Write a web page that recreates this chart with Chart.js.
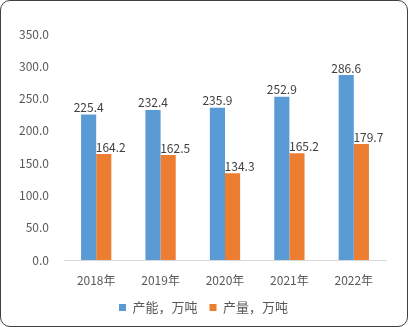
<!DOCTYPE html>
<html>
<head>
<meta charset="utf-8">
<script src="https://cdn.jsdelivr.net/npm/chart.js@4/dist/chart.umd.min.js"></script>
<style>
	html, body { margin: 0; padding: 0; background: #fff; }
	.frame {
		position: absolute; left: 0; top: 0;
		width: 406px; height: 325px;
		border: 1px solid #404040; border-radius: 10px;
		overflow: hidden; background: #fff;
	}
</style>
</head>
<body>
<div class="frame"><canvas id="chart" width="406" height="325"></canvas></div>
<script>
const years = ['2018年', '2019年', '2020年', '2021年', '2022年'];
const capacity = [225.4, 232.4, 235.9, 252.9, 286.6];
const output = [164.2, 162.5, 134.3, 165.2, 179.7];
const seriesNames = ['产能，万吨', '产量，万吨'];

const FONT = "'Noto Sans CJK SC', 'Noto Sans', sans-serif";

// numbers above each bar (the second series sits a bit to the right so it clears the blue bar)
const labelShift = [0, 7];
const valueLabels = {
	id: 'valueLabels',
	afterDatasetsDraw(chart) {
		const ctx = chart.ctx;
		ctx.save();
		ctx.font = '12px ' + FONT;
		ctx.fillStyle = '#404040';
		ctx.textAlign = 'center';
		ctx.textBaseline = 'bottom';
		chart.data.datasets.forEach((ds, i) => {
			chart.getDatasetMeta(i).data.forEach((bar, j) => {
				ctx.fillText(ds.data[j].toFixed(1), bar.x + labelShift[i], bar.y - 1);
			});
		});
		ctx.restore();
	},
};

// nudge the legend a little to the right, like the original
const legendShift = {
	id: 'legendShift',
	afterLayout(chart) {
		chart.legend.left += 10;
		chart.legend.right += 10;
	},
};

const ctx = document.getElementById('chart').getContext('2d');
new Chart(ctx, {
	type: 'bar',
	data: {
		labels: years,
		datasets: [
			{ label: seriesNames[0], data: capacity, backgroundColor: '#5B9BD5' },
			{ label: seriesNames[1], data: output, backgroundColor: '#ED7D31' },
		],
	},
	options: {
		responsive: false,
		animation: false,
		datasets: { bar: { barPercentage: 1, categoryPercentage: 0.47 } },
		layout: { padding: { top: 33, right: 21, bottom: 2, left: 0 } },
		plugins: {
			tooltip: { enabled: false },
			legend: {
				position: 'bottom',
				labels: {
					boxWidth: 7, boxHeight: 7, padding: 12,
					color: '#595959',
					font: { family: FONT, size: 13 },
				},
			},
		},
		scales: {
			x: {
				grid: { display: false },
				border: { color: '#D9D9D9' },
				afterFit(scale) { scale.height = 29; },
				ticks: { color: '#595959', font: { family: FONT, size: 12 }, padding: 5 },
			},
			y: {
				min: 0, max: 350,
				grid: { display: false, drawTicks: false },
				border: { display: false },
				afterFit(scale) { scale.width = 63; },
				ticks: {
					stepSize: 50, padding: 15,
					color: '#595959',
					font: { family: FONT, size: 12 },
					callback: (v) => v.toFixed(1),
				},
			},
		},
	},
	plugins: [valueLabels, legendShift],
});
</script>
</body>
</html>
